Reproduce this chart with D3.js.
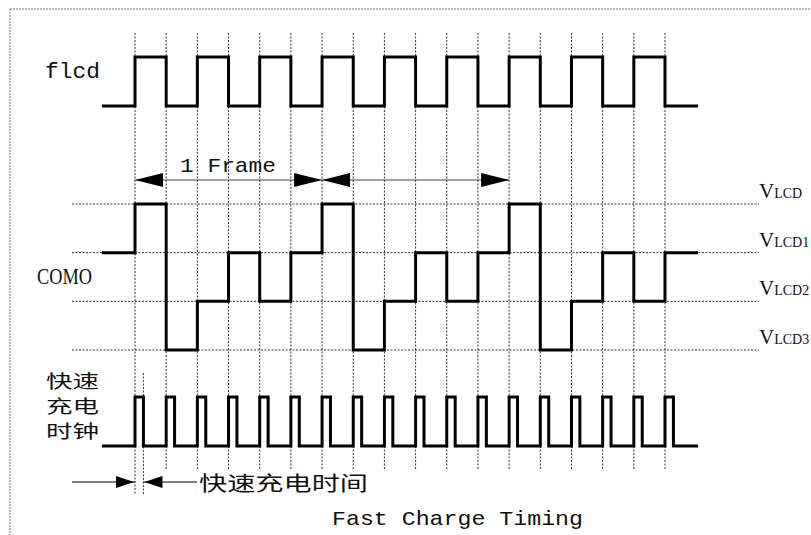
<!DOCTYPE html>
<html>
<head>
<meta charset="utf-8">
<script src="https://cdn.jsdelivr.net/npm/d3@7"></script>
<style>
  body { margin: 0; background: #fff; }
  svg { display: block; }
  .serif { font-family: "Liberation Serif", "DejaVu Serif", serif; fill: #111; }
  .mono { font-family: "Liberation Mono", "DejaVu Sans Mono", monospace; fill: #111; }
  .cjk { font-family: "Noto Sans CJK SC", sans-serif; fill: #111; }
</style>
</head>
<body>
<svg id="chart" width="811" height="535"></svg>
<script>
// grid ticks (one per flcd edge), in time units
const gridTimes = [0, 1, 2, 3, 4, 5, 6, 7, 8, 9, 10, 11, 12, 13, 14, 15, 16, 17];
const startTime = -1.06;
const endTime = 18.06;

// flcd: lead-in, 17 intervals, tail
const flcdValues = [0, 1, 0, 1, 0, 1, 0, 1, 0, 1, 0, 1, 0, 1, 0, 1, 0, 1, 0];
// COM0 level index (0 = VLCD ... 3 = VLCD3)
const comValues = [1, 0, 3, 2, 1, 2, 1, 0, 3, 2, 1, 2, 1, 0, 3, 2, 1, 2, 1];
const levelNames = ["VLCD", "VLCD1", "VLCD2", "VLCD3"];
// fast charge clock pulses start on every grid tick
const pulseWidth = 0.27;
// frames marked with arrows
const frames = [[0, 6], [6, 12]];

const svg = d3.select("#chart");

const x = d3.scaleLinear().domain([0, 17]).range([135, 665]);
const yFlcd = d3.scaleLinear().domain([0, 1]).range([106, 57]);
const yCom = d3.scaleLinear().domain([0, 3]).range([204, 350]);
const yClk = d3.scaleLinear().domain([0, 1]).range([446, 397]);

// border
svg.append("rect")
    .attr("x", 10).attr("y", 9)
    .attr("width", 830).attr("height", 560)
    .attr("fill", "none")
    .attr("stroke", "#777")
    .attr("stroke-dasharray", "2,1");

// vertical dashed grid
svg.append("g").selectAll("line").data(gridTimes).enter()
    .append("line")
    .attr("x1", (d)=>x(d)).attr("x2", (d)=>x(d))
    .attr("y1", 33)
    .attr("y2", (d)=> d === 0 ? 494 : 469)
    .attr("stroke", "#333")
    .attr("stroke-dasharray", "2,1.5");

// marker for first fast charge pulse end
svg.append("line")
    .attr("x1", x(pulseWidth)).attr("x2", x(pulseWidth))
    .attr("y1", 373).attr("y2", 494)
    .attr("stroke", "#333")
    .attr("stroke-dasharray", "2,1.5");

// horizontal level lines
svg.append("g").selectAll("line").data(levelNames).enter()
    .append("line")
    .attr("x1", 72).attr("x2", 759)
    .attr("y1", (d, i)=>yCom(i)).attr("y2", (d, i)=>yCom(i))
    .attr("stroke", "#333")
    .attr("stroke-dasharray", "2,1.5");

// level labels: big V + small LCD
let lab = svg.append("g").selectAll("text").data(levelNames).enter()
    .append("text")
    .attr("class", "serif")
    .attr("x", 759)
    .attr("y", (d, i)=>yCom(i) - 6);
lab.append("tspan").attr("font-size", 21).text((d)=>d[0]);
lab.append("tspan").attr("font-size", 14).text((d)=>d.slice(1));

// step helper
function stepPoints(values){
    let pts = [];
    pts.push([startTime, values[0]]);
    for(let i=1; i<values.length-1; i++){
        pts.push([gridTimes[i-1], values[i]]);
    }
    pts.push([17, values[values.length-1]]);
    pts.push([endTime, values[values.length-1]]);
    return pts;
}

const wave = (ys)=> d3.line()
    .x((d)=>x(d[0]))
    .y((d)=>ys(d[1]))
    .curve(d3.curveStepAfter);

function drawWave(pts, ys){
    svg.append("path")
        .attr("d", wave(ys)(pts))
        .attr("fill", "none")
        .attr("stroke", "#000")
        .attr("stroke-width", 3)
        .attr("stroke-linejoin", "miter");
}

drawWave(stepPoints(flcdValues), yFlcd);
drawWave(stepPoints(comValues), yCom);

// fast charge clock
let clk = [[startTime, 0]];
for(let t of gridTimes){
    clk.push([t, 1]);
    clk.push([t + pulseWidth, 0]);
}
clk.push([endTime, 0]);
drawWave(clk, yClk);

// frame arrows
function arrowHead(tipX, y, dir, len, half){
    return `M${tipX},${y}L${tipX + dir*len},${y-half}L${tipX + dir*len},${y+half}Z`;
}
const frameY = 180;
for(let f of frames){
    svg.append("line")
        .attr("x1", x(f[0])).attr("x2", x(f[1]))
        .attr("y1", frameY).attr("y2", frameY)
        .attr("stroke", "#444").attr("stroke-width", 1.2);
    svg.append("path").attr("d", arrowHead(x(f[0]), frameY, 1, 28, 7)).attr("fill", "#000");
    svg.append("path").attr("d", arrowHead(x(f[1]), frameY, -1, 28, 7)).attr("fill", "#000");
}

// fast charge time arrows
const chgY = 482;
svg.append("line").attr("x1", 72).attr("x2", x(0)).attr("y1", chgY).attr("y2", chgY)
    .attr("stroke", "#000").attr("stroke-width", 1.2);
svg.append("path").attr("d", arrowHead(x(0) - 1, chgY, -1, 18, 6)).attr("fill", "#000");
svg.append("line").attr("x1", x(pulseWidth)).attr("x2", 197).attr("y1", chgY).attr("y2", chgY)
    .attr("stroke", "#000").attr("stroke-width", 1.2);
svg.append("path").attr("d", arrowHead(x(pulseWidth) + 1, chgY, 1, 18, 6)).attr("fill", "#000");

// texts
svg.append("text").attr("class", "mono")
    .attr("x", 45).attr("y", 78).attr("font-size", 22)
    .attr("textLength", 55).attr("lengthAdjust", "spacingAndGlyphs")
    .text("flcd");

svg.append("text").attr("class", "mono")
    .attr("x", 180).attr("y", 172).attr("font-size", 21)
    .attr("textLength", 96).attr("lengthAdjust", "spacingAndGlyphs")
    .text("1 Frame");

svg.append("text").attr("class", "serif")
    .attr("x", 37).attr("y", 284).attr("font-size", 23)
    .attr("textLength", 55).attr("lengthAdjust", "spacingAndGlyphs")
    .text("COMO");

const clkLabel = ["快速", "充电", "时钟"];
svg.append("g").selectAll("text").data(clkLabel).enter()
    .append("text").attr("class", "cjk")
    .attr("x", 46).attr("y", (d, i)=>380 + i*25)
    .attr("dominant-baseline", "central")
    .attr("font-size", 18)
    .attr("textLength", 53).attr("lengthAdjust", "spacingAndGlyphs")
    .text((d)=>d);

svg.append("text").attr("class", "cjk")
    .attr("x", 199).attr("y", chgY)
    .attr("dominant-baseline", "central")
    .attr("font-size", 20)
    .attr("textLength", 169).attr("lengthAdjust", "spacingAndGlyphs")
    .text("快速充电时间");

svg.append("text").attr("class", "mono")
    .attr("x", 332).attr("y", 525).attr("font-size", 21)
    .attr("textLength", 251).attr("lengthAdjust", "spacingAndGlyphs")
    .text("Fast Charge Timing");
</script>
</body>
</html>
